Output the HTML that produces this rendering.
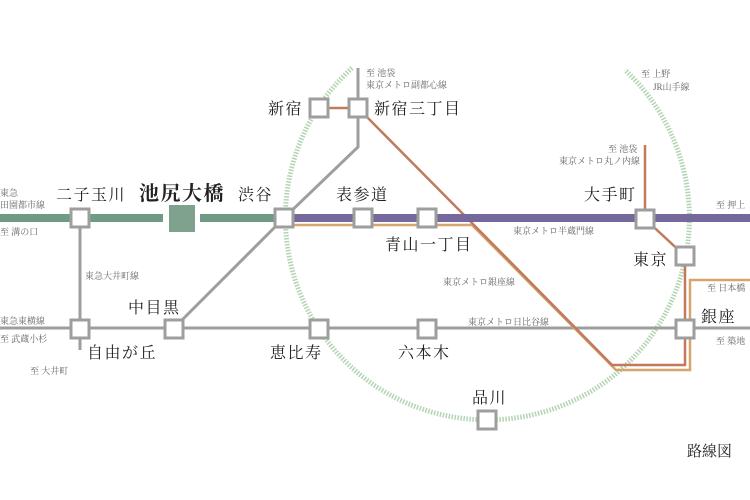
<!DOCTYPE html>
<html><head><meta charset="utf-8"><style>
body{margin:0;background:#fff}
svg{display:block}
text{font-family:"Liberation Serif","Noto Serif CJK SC",serif;fill:#222}
.s{font-size:9px;fill:#666}
.n{font-size:16px;letter-spacing:1.5px}
</style></head><body>
<svg width="750" height="500" viewBox="0 0 750 500" xmlns="http://www.w3.org/2000/svg">
<path d="M352 68 A202 202 0 1 0 625 70" fill="none" stroke="#b3d4b3" stroke-width="5" stroke-dasharray="1.5 1.5"/>
<g stroke="#9e9e9e" stroke-width="3" fill="none">
<line x1="0" y1="328" x2="750" y2="328"/>
<line x1="80" y1="218" x2="80" y2="350"/>
<polyline points="174,328 284,218 358,147 358,68"/>
</g>
<polyline points="284,225 472,225 616,370 690,370 690,280 750,280" fill="none" stroke="#d6a46c" stroke-width="2.5"/>
<g stroke="#c27a5c" stroke-width="2.5" fill="none">
<line x1="319" y1="108" x2="358" y2="108"/>
<polyline points="358,108 467,218 612,365 685,365 685,256 645,219 645,145"/>
</g>
<line x1="0" y1="218" x2="163" y2="218" stroke="#6f9a83" stroke-width="8"/>
<line x1="200" y1="218" x2="284" y2="218" stroke="#6f9a83" stroke-width="8"/>
<line x1="284" y1="218" x2="750" y2="218" stroke="#75699b" stroke-width="8"/>
<rect x="169" y="205" width="26" height="27" fill="#7fa28f"/>
<g fill="#fff" stroke="#9e9e9e" stroke-width="3">
<rect x="71" y="209" width="18" height="18"/>
<rect x="275" y="209" width="18" height="18"/>
<rect x="354" y="209" width="18" height="18"/>
<rect x="418" y="209" width="18" height="18"/>
<rect x="636" y="210" width="18" height="18"/>
<rect x="676" y="247" width="18" height="18"/>
<rect x="676" y="320" width="18" height="18"/>
<rect x="71" y="320" width="18" height="18"/>
<rect x="165" y="320" width="18" height="18"/>
<rect x="310" y="320" width="18" height="18"/>
<rect x="418" y="320" width="18" height="18"/>
<rect x="478" y="411" width="18" height="18"/>
<rect x="310" y="99" width="18" height="18"/>
<rect x="349" y="99" width="18" height="18"/>
</g>
<text class="n" x="56" y="200">二子玉川</text>
<text x="139" y="200" font-size="20" font-weight="bold" letter-spacing="1.5">池尻大橋</text>
<text class="n" x="238" y="200">渋谷</text>
<text class="n" x="336" y="200">表参道</text>
<text class="n" x="385" y="250">青山一丁目</text>
<text class="n" x="584" y="200">大手町</text>
<text class="n" x="633" y="265">東京</text>
<text class="n" x="701" y="322">銀座</text>
<text class="n" x="128" y="313">中目黒</text>
<text class="n" x="87" y="358">自由が丘</text>
<text class="n" x="270" y="358">恵比寿</text>
<text class="n" x="398" y="358">六本木</text>
<text class="n" x="472" y="403">品川</text>
<text class="n" x="268" y="114">新宿</text>
<text class="n" x="374" y="114">新宿三丁目</text>
<text x="687" y="456" font-size="15">路線図</text>
<text class="s" x="0" y="196">東急</text>
<text class="s" x="0" y="208">田園都市線</text>
<text class="s" x="0" y="235">至 溝の口</text>
<text class="s" x="85" y="279">東急大井町線</text>
<text class="s" x="0" y="324">東急東横線</text>
<text class="s" x="0" y="342">至 武蔵小杉</text>
<text class="s" x="30" y="374">至 大井町</text>
<text class="s" x="366" y="76">至 池袋</text>
<text class="s" x="366" y="88">東京メトロ副都心線</text>
<text class="s" x="641" y="77">至 上野</text>
<text class="s" x="653" y="90">JR山手線</text>
<text class="s" x="608" y="152">至 池袋</text>
<text class="s" x="559" y="164">東京メトロ丸ノ内線</text>
<text class="s" x="716" y="208">至 押上</text>
<text class="s" x="513" y="234">東京メトロ半蔵門線</text>
<text class="s" x="443" y="285">東京メトロ銀座線</text>
<text class="s" x="468" y="325">東京メトロ日比谷線</text>
<text class="s" x="707" y="291">至 日本橋</text>
<text class="s" x="716" y="344">至 築地</text>
</svg>
</body></html>
